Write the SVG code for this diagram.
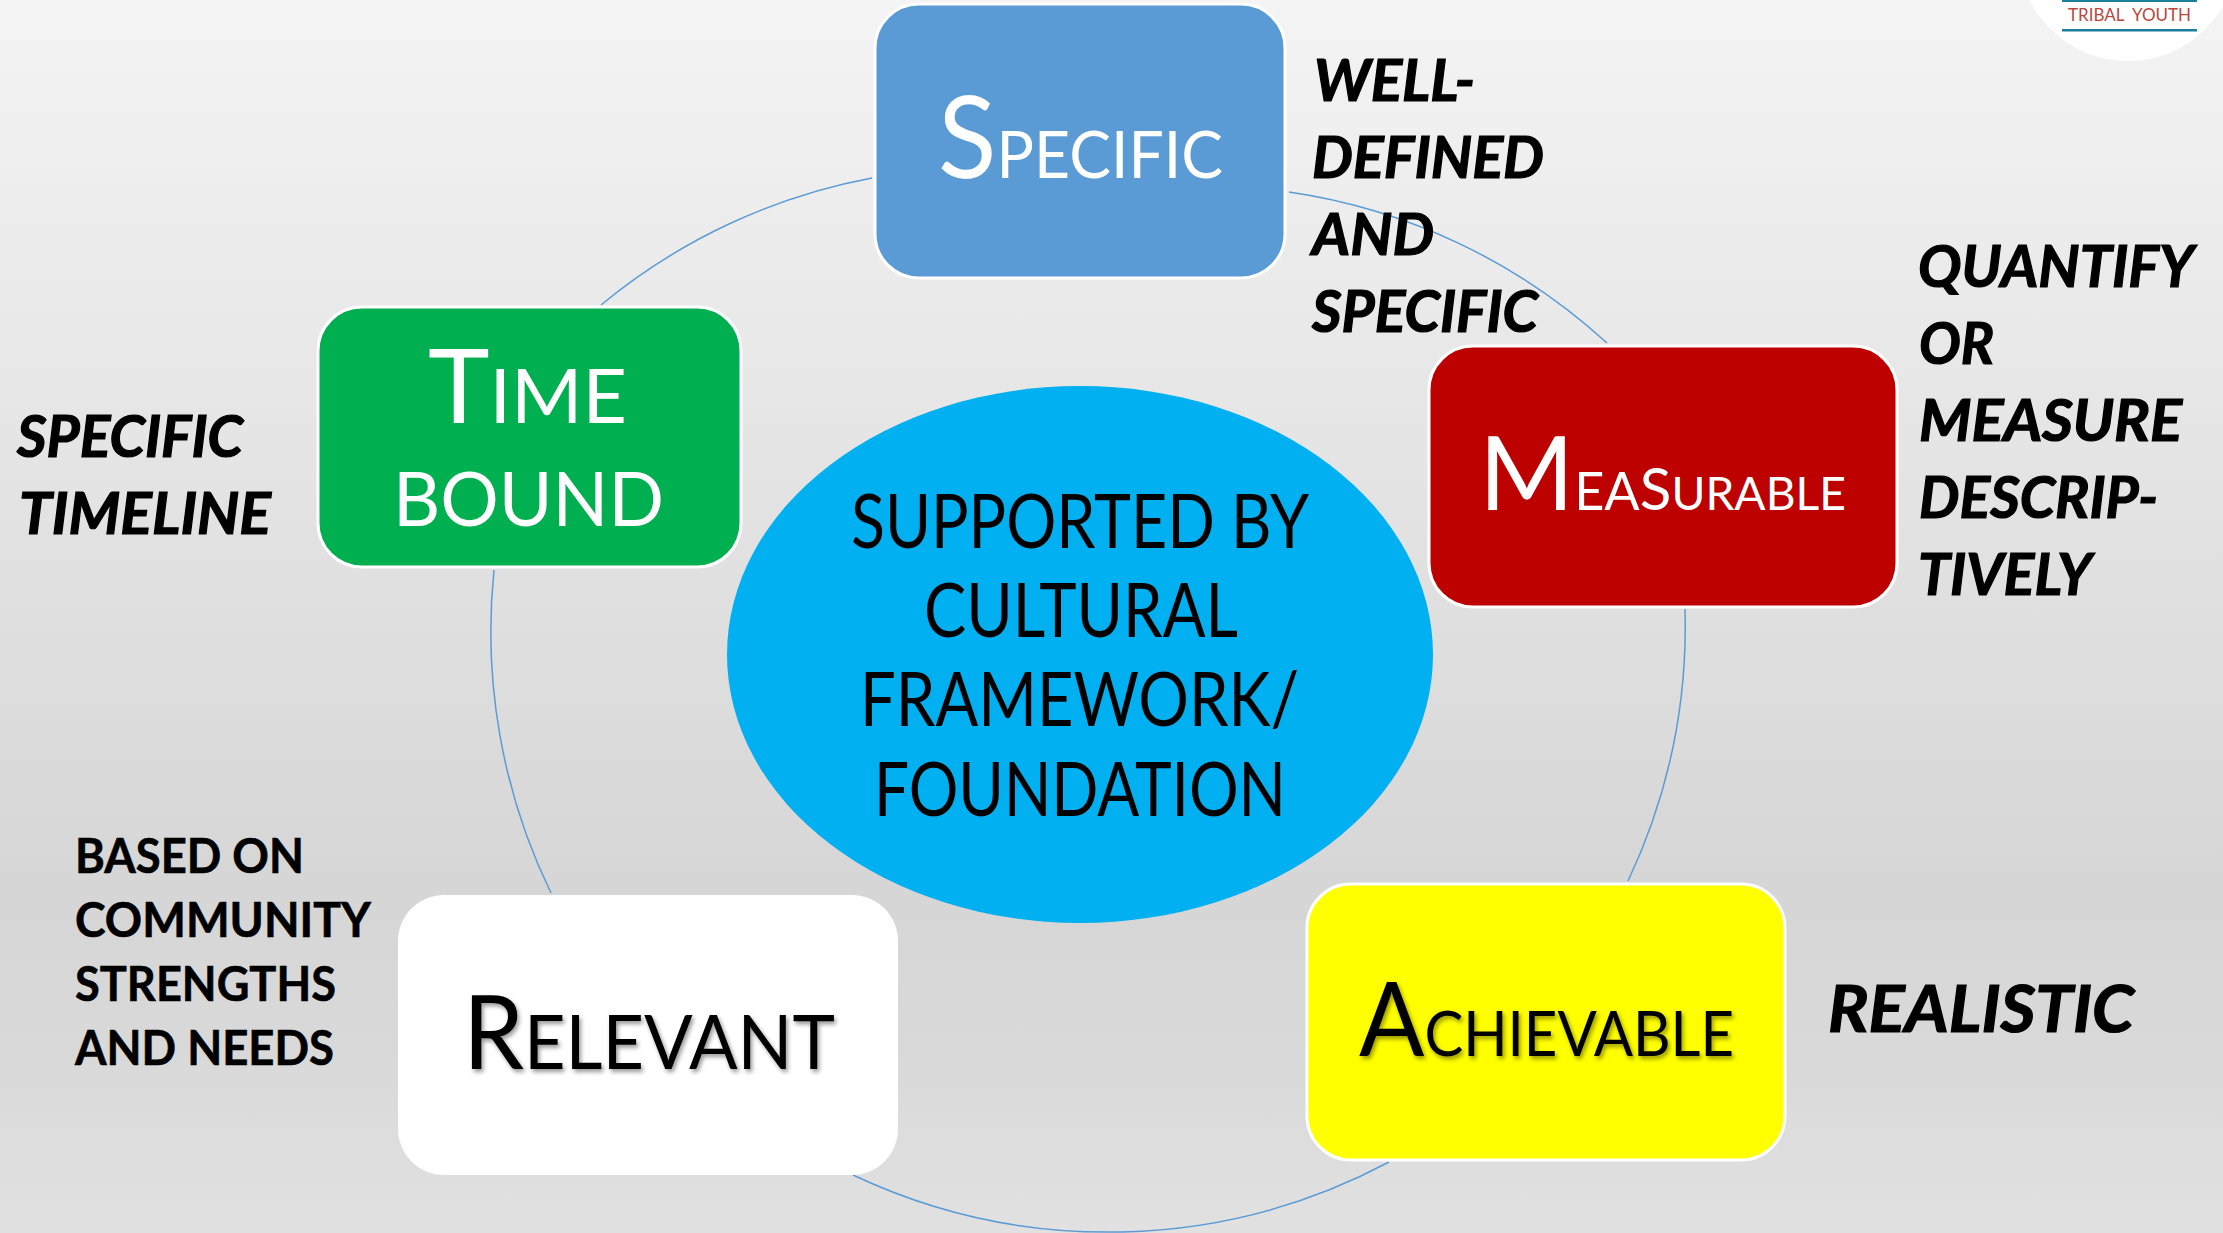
<svg xmlns="http://www.w3.org/2000/svg" width="2223" height="1233" viewBox="0 0 2223 1233">
<defs>
<linearGradient id="bg" x1="0" y1="0" x2="0" y2="1">
<stop offset="0" stop-color="#f4f4f4"/><stop offset="0.72" stop-color="#d6d6d6"/><stop offset="0.86" stop-color="#d9d9d9"/><stop offset="1" stop-color="#e1e1e1"/>
</linearGradient>
<filter id="sh" x="-5%" y="-10%" width="110%" height="125%"><feDropShadow dx="2" dy="3" stdDeviation="2" flood-color="#000" flood-opacity="0.4"/></filter>
</defs>
<style>
text{font-family:Lato,"Open Sans","Noto Sans",sans-serif}
.box{stroke:#fff;stroke-width:3}
.arc{fill:none;stroke:#5b9bd5;stroke-width:1.5}
.note{font-weight:700;font-style:italic;font-size:57px;fill:#000;stroke:#000;stroke-width:1.2}
.plain{font-weight:700;font-size:48px;fill:#000;stroke:#000;stroke-width:.6}
.mid{font-size:76px;fill:#000}
.w{fill:#fff}
.k{fill:#000}
</style>
<rect width="2223" height="1233" fill="url(#bg)"/>
<g id="logo">
<circle cx="2128" cy="-49" r="110" fill="#fff"/>
<rect x="2062" y="0" width="135" height="2" fill="#1b7f9b"/>
<rect x="2062" y="29" width="135" height="2.5" fill="#1b7f9b"/>
<text x="2068" y="21" font-size="17" fill="#b8473d" textLength="123" lengthAdjust="spacingAndGlyphs" style="white-space:pre">TRIBAL  YOUTH</text>
</g>
<g id="connectors">
<path class="arc" d="M872 178A598 598 0 0 0 601 305"/>
<path class="arc" d="M1289 192A598 598 0 0 1 1607 343"/>
<path class="arc" d="M1685 609A598 598 0 0 1 1628 881"/>
<path class="arc" d="M1389 1162A598 598 0 0 1 853 1175"/>
<path class="arc" d="M551 893A598 598 0 0 1 494 570"/>
</g>
<g id="center">
<ellipse cx="1080" cy="654.5" rx="353" ry="268.5" fill="#00b0f0"/>
<text class="mid" x="851" y="548" textLength="458" lengthAdjust="spacingAndGlyphs">SUPPORTED BY</text>
<text class="mid" x="924" y="637" textLength="314" lengthAdjust="spacingAndGlyphs">CULTURAL</text>
<text class="mid" x="860" y="726" textLength="439" lengthAdjust="spacingAndGlyphs">FRAMEWORK/</text>
<text class="mid" x="874" y="816" textLength="412" lengthAdjust="spacingAndGlyphs">FOUNDATION</text>
</g>
<g id="specific">
<rect class="box" x="875" y="4" width="410" height="274" rx="44" fill="#5b9bd5"/>
<text class="w" x="938" y="178" textLength="285" lengthAdjust="spacingAndGlyphs"><tspan font-size="114">S</tspan><tspan font-size="66">PECIFIC</tspan></text>
</g>
<g id="measurable">
<rect class="box" x="1429" y="346" width="468" height="261" rx="44" fill="#bd0000"/>
<text class="w" x="1479" y="510" textLength="367" lengthAdjust="spacingAndGlyphs"><tspan font-size="102">M</tspan><tspan font-size="52">EA</tspan><tspan font-size="58">S</tspan><tspan font-size="46">URABLE</tspan></text>
</g>
<g id="achievable">
<rect class="box" x="1307" y="884" width="478" height="276" rx="44" fill="#ffff00"/>
<text class="k" filter="url(#sh)" x="1359" y="1056" textLength="375" lengthAdjust="spacingAndGlyphs"><tspan font-size="103">A</tspan><tspan font-size="62">CHIEVABLE</tspan></text>
</g>
<g id="relevant">
<rect x="398" y="895" width="500" height="280" rx="46" fill="#fff"/>
<text class="k" filter="url(#sh)" x="463" y="1069" textLength="372" lengthAdjust="spacingAndGlyphs"><tspan font-size="103">R</tspan><tspan font-size="76">ELEVANT</tspan></text>
</g>
<g id="timebound">
<rect class="box" x="318" y="307" width="423" height="260" rx="44" fill="#00b050"/>
<text class="w" x="428" y="423" textLength="199" lengthAdjust="spacingAndGlyphs"><tspan font-size="103">T</tspan><tspan font-size="76">IME</tspan></text>
<text class="w" x="393" y="526" font-size="76" textLength="271" lengthAdjust="spacingAndGlyphs">BOUND</text>
</g>
<g id="notes">
<text class="note" x="1314" y="101" textLength="161" lengthAdjust="spacingAndGlyphs">WELL-</text>
<text class="note" x="1312" y="178" textLength="232" lengthAdjust="spacingAndGlyphs">DEFINED</text>
<text class="note" x="1312" y="255" textLength="122" lengthAdjust="spacingAndGlyphs">AND</text>
<text class="note" x="1312" y="332" textLength="226" lengthAdjust="spacingAndGlyphs">SPECIFIC</text>
<text class="note" x="1918" y="287" textLength="276" lengthAdjust="spacingAndGlyphs">QUANTIFY</text>
<text class="note" x="1919" y="364" textLength="75" lengthAdjust="spacingAndGlyphs">OR</text>
<text class="note" x="1919" y="441" textLength="263" lengthAdjust="spacingAndGlyphs">MEASURE</text>
<text class="note" x="1919" y="518" textLength="239" lengthAdjust="spacingAndGlyphs">DESCRIP-</text>
<text class="note" x="1918" y="595" textLength="174" lengthAdjust="spacingAndGlyphs">TIVELY</text>
<text class="note" style="font-size:65px" x="1828" y="1032" textLength="306" lengthAdjust="spacingAndGlyphs">REALISTIC</text>
<text class="note" x="17" y="457" textLength="226" lengthAdjust="spacingAndGlyphs">SPECIFIC</text>
<text class="note" x="19" y="534" textLength="252" lengthAdjust="spacingAndGlyphs">TIMELINE</text>
<text class="plain" x="75" y="873" textLength="229" lengthAdjust="spacingAndGlyphs">BASED ON</text>
<text class="plain" x="75" y="937" textLength="296" lengthAdjust="spacingAndGlyphs">COMMUNITY</text>
<text class="plain" x="75" y="1001" textLength="261" lengthAdjust="spacingAndGlyphs">STRENGTHS</text>
<text class="plain" x="75" y="1065" textLength="259" lengthAdjust="spacingAndGlyphs">AND NEEDS</text>
</g>
</svg>
